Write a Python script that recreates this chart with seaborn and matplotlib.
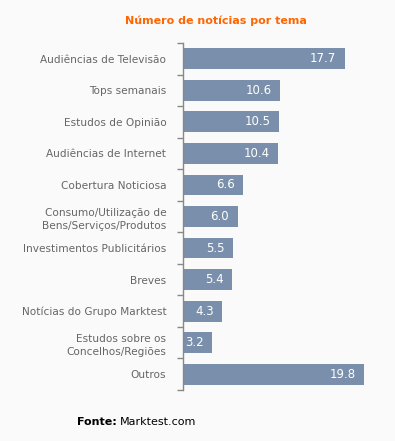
import matplotlib.pyplot as plt
import numpy as np
import pandas as pd
import seaborn as sns

temas = [
    "Audiências de Televisão",
    "Tops semanais",
    "Estudos de Opinião",
    "Audiências de Internet",
    "Cobertura Noticiosa",
    "Consumo/Utilização de\nBens/Serviços/Produtos",
    "Investimentos Publicitários",
    "Breves",
    "Notícias do Grupo Marktest",
    "Estudos sobre os\nConcelhos/Regiões",
    "Outros",
]
valores = [17.7, 10.6, 10.5, 10.4, 6.6, 6.0, 5.5, 5.4, 4.3, 3.2, 19.8]

bg = "#fafafa"
bar_color = "#7a8fab"
label_color = "#666666"

sns.set_style("white")
plt.rcParams["font.family"] = ["DejaVu Sans"]

df = pd.DataFrame({"tema": temas, "valor": valores})

fig = plt.figure(figsize=(3.95, 4.41), dpi=100, facecolor=bg)
ax = fig.add_axes([183 / 395, 1 - 390 / 441, (390 - 183) / 395, (390 - 43) / 441])
ax.set_facecolor(bg)

sns.barplot(data=df, x="valor", y="tema", orient="h", color=bar_color,
            width=0.66, saturation=1, linewidth=0, ax=ax)

ax.set_xlim(0, 207 / 9.15)
ax.set_ylim(len(temas) - 0.5, -0.5)
ax.set_xlabel("")
ax.set_ylabel("")
ax.set_xticks([])

for s in ["top", "right", "bottom"]:
    ax.spines[s].set_visible(False)
ax.spines["left"].set_color("#888888")
ax.spines["left"].set_linewidth(1.0)

ax.set_yticks(np.arange(len(temas)))
ax.set_yticklabels(temas, fontsize=7.6, color=label_color, linespacing=1.4)
ax.tick_params(axis="y", which="major", left=True, length=0, pad=12)
ax.set_yticks(np.arange(len(temas) + 1) - 0.5, minor=True)
ax.tick_params(axis="y", which="minor", left=True, length=4, width=1.0,
               color="#888888", direction="out")

for i, v in enumerate(valores):
    ax.text(v - 0.95, i, f"{v:.1f}", ha="right", va="center",
            color="white", fontsize=8.5)

fig.text(216 / 395, 1 - 21 / 441, "Número de notícias por tema", ha="center",
         va="center", color="#ff6600", fontsize=8, fontweight="bold")

fig.text(77 / 395, 1 - 422 / 441, "Fonte:", ha="left", va="center",
         color="black", fontsize=8, fontweight="bold")
fig.text(120 / 395, 1 - 422 / 441, "Marktest.com", ha="left", va="center",
         color="black", fontsize=8)

fig.savefig("out.png", dpi=100, facecolor=bg)
